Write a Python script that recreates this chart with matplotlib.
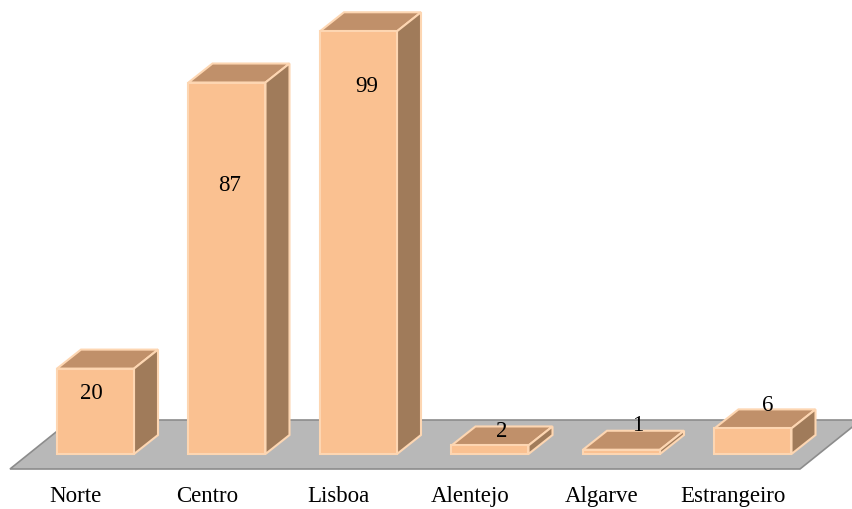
import matplotlib
matplotlib.use("Agg")
import matplotlib.pyplot as plt
from matplotlib.patches import Polygon

categories = ["Norte", "Centro", "Lisboa", "Alentejo", "Algarve", "Estrangeiro"]
values = [20, 87, 99, 2, 1, 6]

# layout (value-axis positions of the data labels)
label_pos = [14.3, 63.2, 86.2, 5.4, 6.8, 11.7]
label_dx = [-0.03, 0.02, 0.06, 0.09, 0.12, 0.11]

W, H = 853, 510
fig = plt.figure(figsize=(W / 100, H / 100), dpi=100)
ax = fig.add_axes([0, 0, 1, 1])
px_x = 131.5          # pixels per category
px_y = 4.27           # pixels per value unit
x0_px, y0_px = 95.5, 55.0
ax.set_xlim(-x0_px / px_x, (W - x0_px) / px_x)
ax.set_ylim(-y0_px / px_y, (H - y0_px) / px_y)
ax.axis("off")

# depth offsets (in data units)
ddx, ddy = 24 / px_x, 19 / px_y
bw = 77 / px_x

front_c = "#fac191"
top_c = "#c0906a"
side_c = "#a07b5a"
edge_c = "#fdd6b2"

# floor
fl_front = -15 / px_y
fl_back = 34 / px_y
fl_l = -85.5 / px_x
fl_r = 704.5 / px_x
fdx = 61 / px_x
floor = Polygon([(fl_l, fl_front), (fl_r, fl_front), (fl_r + fdx, fl_back),
                 (fl_l + fdx, fl_back)], closed=True, facecolor="#b8b8b8",
                edgecolor="#8c8c8c", lw=1.2, zorder=1)
ax.add_patch(floor)

xs = list(range(len(categories)))
bars = ax.bar(xs, values, width=bw, color=front_c, edgecolor=edge_c, lw=1.5, zorder=3)
for b in bars:
    l, r, h = b.get_x(), b.get_x() + b.get_width(), b.get_height()
    top = Polygon([(l, h), (r, h), (r + ddx, h + ddy), (l + ddx, h + ddy)],
                  closed=True, facecolor=top_c, edgecolor=edge_c, lw=1.5, zorder=2)
    side = Polygon([(r, 0), (r + ddx, ddy), (r + ddx, h + ddy), (r, h)],
                   closed=True, facecolor=side_c, edgecolor=edge_c, lw=1.5, zorder=2)
    ax.add_patch(top)
    ax.add_patch(side)

for x, v, lp, dx in zip(xs, values, label_pos, label_dx):
    ax.text(x + dx, lp, str(v), ha="center", va="center", fontsize=16.5,
            family="Liberation Serif", color="black", zorder=5)

for x, c in zip(xs, categories):
    ax.text(x - 20 / px_x, -42 / px_y, c, ha="center", va="center", fontsize=16.5,
            family="Liberation Serif", color="black")

fig.savefig("out.png", dpi=100)
